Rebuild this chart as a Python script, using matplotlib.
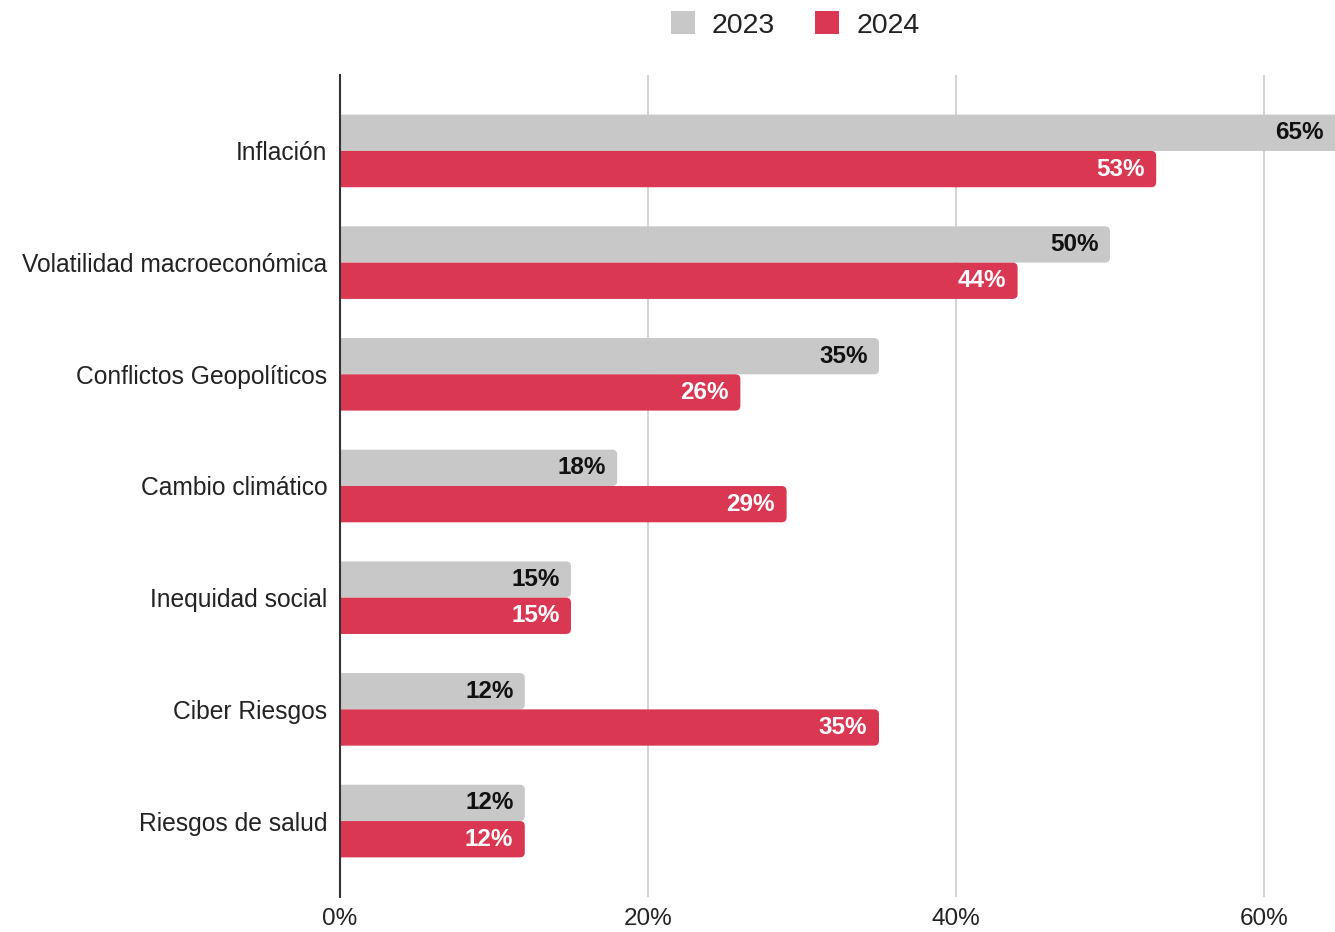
import matplotlib
matplotlib.use("Agg")
import matplotlib.pyplot as plt
from matplotlib.patches import FancyBboxPatch, Rectangle
import numpy as np

plt.rcParams['font.family'] = ['Liberation Sans', 'DejaVu Sans']

categories = ["Inflación", "Volatilidad macroeconómica", "Conflictos Geopolíticos",
              "Cambio climático", "Inequidad social", "Ciber Riesgos", "Riesgos de salud"]
values_2023 = [65, 50, 35, 18, 15, 12, 12]
values_2024 = [53, 44, 26, 29, 15, 35, 12]
series_names = ["2023", "2024"]
x_ticks = [0, 20, 40, 60]

color_2023 = "#c8c8c8"
color_2024 = "#da3753"

W, H = 1335, 932
fig = plt.figure(figsize=(W / 100, H / 100), dpi=100)
ax = fig.add_axes([340 / W, 1 - 897 / H, (W - 340) / W, (897 - 75) / H])

px_x = 15.4
x_max = (W - 340) / px_x
ax.set_xlim(0, x_max)
ax.set_ylim(len(categories) - 1 + 0.68, -0.68)

bar_h = 0.325
y = np.arange(len(categories))

px_y = (897 - 75) / (len(categories) - 1 + 1.36)
radius_px = 5


def rounded_bar(yc, width, color):
    # start left of the baseline so only the right-hand corners show rounded
    r = radius_px / px_x
    patch = FancyBboxPatch((-2 * r, yc - bar_h / 2), width + 2 * r, bar_h,
                           boxstyle=f"round,pad=0,rounding_size={r}",
                           mutation_aspect=px_x / px_y,
                           fc=color, ec="none", zorder=3, clip_on=True)
    ax.add_patch(patch)


for i in range(len(categories)):
    y23 = y[i] - bar_h / 2
    y24 = y[i] + bar_h / 2
    rounded_bar(y23, values_2023[i], color_2023)
    rounded_bar(y24, values_2024[i], color_2024)
    ax.text(min(values_2023[i], x_max) - 0.72, y23, f"{values_2023[i]}%",
            ha="right", va="center", fontsize=17.5, fontweight="bold",
            color="#111111", zorder=4)
    ax.text(values_2024[i] - 0.75, y24, f"{values_2024[i]}%",
            ha="right", va="center", fontsize=17.5, fontweight="bold",
            color="white", zorder=4)

ax.set_yticks(y)
ax.set_yticklabels(categories, fontsize=17.7, color="#222222")
ax.set_xticks(x_ticks)
ax.set_xticklabels([f"{t}%" for t in x_ticks], fontsize=17.5, color="#222222")
ax.tick_params(axis="both", length=0)
ax.tick_params(axis="y", pad=9)
ax.tick_params(axis="x", pad=8)

ax.grid(axis="x", color="#cccccc", linewidth=1.2, zorder=0)
ax.set_axisbelow(True)
for s in ["top", "right", "bottom"]:
    ax.spines[s].set_visible(False)
ax.spines["left"].set_color("#333333")
ax.spines["left"].set_linewidth(1.5)
ax.spines["left"].set_zorder(5)

handles = [Rectangle((0, 0), 1, 1, fc=color_2023, ec="none"),
           Rectangle((0, 0), 1, 1, fc=color_2024, ec="none")]
fig.legend(handles, series_names, loc="center", bbox_to_anchor=(795 / W, 1 - 25 / H),
           ncol=2, frameon=False, fontsize=20.5, handlelength=0.85, handleheight=0.85,
           columnspacing=1.4, handletextpad=0.6, labelcolor="#222222")

fig.savefig("out.png", dpi=100)
